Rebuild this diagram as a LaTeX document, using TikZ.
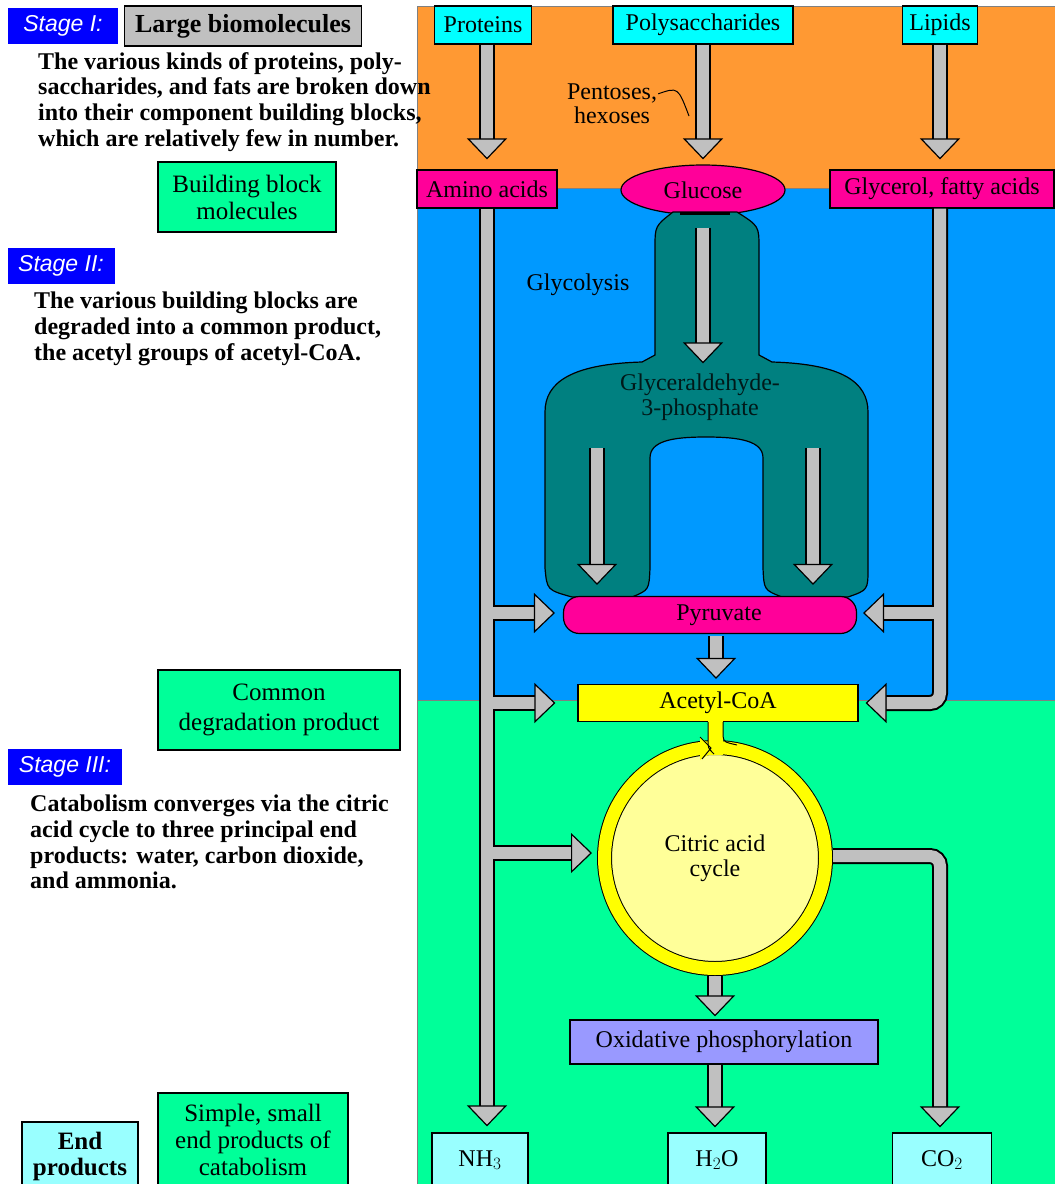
\documentclass[tikz,border=0pt]{standalone}
\usepackage{fontspec}
\setmainfont{Liberation Serif}
\setsansfont{Liberation Sans}
\usetikzlibrary{arrows.meta,shapes.geometric,calc}

\definecolor{orangebg}{HTML}{FF9933}
\definecolor{bluebg}{HTML}{0099FF}
\definecolor{greenbg}{HTML}{00FF99}
\definecolor{topcyan}{HTML}{00FFFF}
\definecolor{endcyan}{HTML}{99FFFF}
\definecolor{magbox}{HTML}{FF0099}
\definecolor{glyteal}{HTML}{008080}
\definecolor{pipegray}{HTML}{C0C0C0}
\definecolor{stageblue}{HTML}{0000FF}
\definecolor{acyellow}{HTML}{FFFF00}
\definecolor{cycyellow}{HTML}{FFFF99}
\definecolor{oxblue}{HTML}{9999FF}

\tikzset{
  box/.style={draw=black, line width=1.2pt, inner sep=0pt, align=center,
    font=\fontsize{24}{26}\selectfont},
  stage/.style={fill=stageblue, inner sep=0pt, text=white,
    font=\sffamily\itshape\fontsize{23}{24}\selectfont},
  para/.style={anchor=north west, inner sep=0pt, align=left,
    font=\bfseries\fontsize{24}{25.7}\selectfont},
  pipe/.style={draw=pipegray, line width=12pt,
    -{Triangle[width=40pt,length=21pt,line width=1.2pt,fill=pipegray,color=black]},
    preaction={draw=black, line width=16pt, -, shorten >=20pt}},
}

\begin{document}
\begin{tikzpicture}[x=1pt,y=-1pt]
\useasboundingbox (0,0) rectangle (1055,1184);
\fill[white] (0,0) rectangle (1055,1184);

\fill[orangebg] (417,6) rectangle (1055,188);
\fill[bluebg] (417,188) rectangle (1055,700);
\fill[greenbg] (417,700) rectangle (1055,1184);
\draw[gray, line width=1pt] (417,1184) -- (417,6) -- (1055,6);
\draw[gray, line width=1pt] (417,188) -- (1055,188);
\draw[gray, line width=1pt] (417,700) -- (1055,700);

\node[stage, minimum width=110, minimum height=36] (stageI) at (63,26) {Stage I:};
\node[box, fill=pipegray, minimum width=237, minimum height=40, font=\bfseries\fontsize{26}{28}\selectfont] (large) at (243,26) {Large biomolecules};
\node[para] (paraI) at (38,52) {The various kinds of proteins, poly-\\saccharides, and fats are broken down\\into their component building blocks,\\which are relatively few in number.};
\node[box, fill=greenbg, minimum width=178, minimum height=70, font=\fontsize{25}{27}\selectfont] (bblock) at (247,197) {Building block\\molecules};

\node[stage, minimum width=107, minimum height=36] (stageII) at (61,266) {Stage II:};
\node[para] (paraII) at (34,292) {The various building blocks are\\degraded into a common product,\\the acetyl groups of acetyl-CoA.};
\node[box, fill=greenbg, minimum width=242, minimum height=80, font=\fontsize{25}{30}\selectfont] (common) at (279,710) {Common\\degradation product};

\node[stage, minimum width=114, minimum height=36] (stageIII) at (65,767) {Stage III:};
\node[para] (paraIII) at (30,795) {Catabolism converges via the citric\\acid cycle to three principal end\\products: water, carbon dioxide,\\and ammonia.};

\node[box, fill=endcyan, minimum width=116, minimum height=68, font=\bfseries\fontsize{25}{26}\selectfont] (endprod) at (80,1156) {End\\products};
\node[box, fill=greenbg, minimum width=190, minimum height=94, font=\fontsize{25}{27}\selectfont] (simple) at (253,1140) {Simple, small\\end products of\\catabolism};

\node[box, fill=topcyan, minimum width=97, minimum height=38] (proteins) at (483,25) {Proteins};
\node[box, fill=topcyan, minimum width=180, minimum height=38] (polysac) at (703,25) {Polysaccharides};
\node[box, fill=topcyan, minimum width=75, minimum height=38] (lipids) at (940,25) {Lipids};

\node[box, fill=magbox, minimum width=140, minimum height=38] (amino) at (487,189) {Amino acids};
\node[box, ellipse, fill=magbox, minimum width=164, minimum height=50] (glucose) at (703,190) {Glucose};
\node[box, fill=magbox, minimum width=224, minimum height=38] (glycerol) at (942,189) {Glycerol, fatty acids};

\node[align=center, font=\fontsize{24}{24}\selectfont, inner sep=0pt] (pent) at (612,104) {Pentoses,\\hexoses};
\coordinate (pentend) at (689,116);
\draw[line width=1pt] ($(pent.north east)+(1,10)$) .. controls (678,87) .. (pentend);

\draw[pipe] (proteins.south -| amino.south) -- ($(amino.north)+(0,-10)$);
\draw[pipe] (polysac.south) -- ($(polysac.south |- glucose.north)+(0,-5)$);
\draw[pipe] (lipids.south) -- ($(lipids.south |- glycerol.north)+(0,-10)$);

\filldraw[fill=glyteal, draw=black, line width=1.2pt]
  (673,212) -- (737,212) .. controls (759,226) .. (759,248) -- (759,355)
  -- (772,362) .. controls (842,364) and (868,382) .. (868,412) -- (868,568)
  .. controls (868,590) .. (848,597) -- (782,597) .. controls (764,590) .. (763,568)
  -- (763,458) .. controls (763,441) and (740,437) .. (706,437)
  .. controls (672,437) and (650,441) .. (650,458) -- (650,568)
  .. controls (649,590) .. (632,597) -- (572,597) .. controls (547,590) .. (545,568)
  -- (545,412) .. controls (545,382) and (572,364) .. (642,362)
  -- (655,355) -- (655,248) .. controls (655,226) .. (673,212) -- cycle;
\draw[line width=3pt] (680,213) -- (730,213);

\node[font=\fontsize{24}{26}\selectfont, inner sep=0pt] (glycolysis) at (578,285) {Glycolysis};
\node[align=center, font=\fontsize{24}{25}\selectfont, inner sep=0pt, text=black!80!glyteal] (g3p) at (700,397) {Glyceraldehyde-\\3-phosphate};

\node[box, rounded corners=16pt, fill=magbox, minimum width=293, minimum height=37] (pyruvate) at (710,615) {\hspace*{18pt}Pyruvate};
\node[box, fill=acyellow, minimum width=280, minimum height=37] (acetyl) at (718,703) {Acetyl-CoA};

\coordinate (legl) at (597,448);
\coordinate (legr) at (813,448);
\draw[pipe] ($(glucose.south)+(0,12)$) -- ($(glucose.south |- g3p.north)+(0,-10)$);
\draw[pipe] (legl) -- ($(legl |- pyruvate.north)+(0,-11)$);
\draw[pipe] (legr) -- ($(legr |- pyruvate.north)+(0,-11)$);
\draw[pipe] ($(pyruvate.south)+(6,2)$) -- ($(acetyl.north)+(-2,-5)$);

\node[circle, draw=black, line width=1pt, double=acyellow, double distance=13pt, fill=cycyellow, minimum size=221, outer sep=7.5pt, inner sep=0pt, align=center, font=\fontsize{24}{25}\selectfont] (citric) at (715,858) {Citric acid\\cycle};
\fill[acyellow] (708,721) rectangle (723,755);
\fill[acyellow] (700,737) -- (716,750) -- (700,760) -- cycle;
\draw[line width=1pt] (708,722) -- (708,740) .. controls (708,748) .. (714,754);
\draw[line width=1pt] (723,722) -- (723,736) .. controls (724,742) .. (737,745);
\draw[line width=1pt] (700,737) -- (711,748) -- (702,759);

\node[box, fill=oxblue, minimum width=308, minimum height=44] (oxphos) at (724,1042) {Oxidative phosphorylation};

\node[box, fill=endcyan, minimum width=96, minimum height=54] (nh3) at (480,1160) {NH$_3$};
\node[box, fill=endcyan, minimum width=98, minimum height=54] (h2o) at (717,1160) {H$_2$O};
\node[box, fill=endcyan, minimum width=99, minimum height=54] (co2) at (942,1160) {CO$_2$};

\coordinate (jl1) at (493,613);
\coordinate (jl2) at (493,703);
\coordinate (jl3) at (493,853);
\coordinate (jr1) at (934,613);
\draw[pipe] (amino.south) -- ($(amino.south |- nh3.north)+(0,-6)$);
\draw[pipe] (jl1) -- ($(jl1 -| pyruvate.west)+(-8,0)$);
\draw[pipe] (jl2) -- ($(acetyl.west)+(-22,0)$);
\draw[pipe] (jl3) -- ($(jl3 -| citric.west)+(-5,0)$);
\draw[pipe, rounded corners=10pt] ($(glycerol.south)+(-2,0)$) |- ($(acetyl.east)+(7,0)$);
\draw[pipe] (jr1) -- ($(jr1 -| pyruvate.east)+(6,0)$);

\draw[pipe] (citric.south) -- ($(oxphos.north)+(-9,-3)$);
\draw[pipe] ($(oxphos.south)+(-9,0)$) -- ($(h2o.north)+(-2,-5)$);
\draw[pipe, rounded corners=10pt] ($(citric.east)+(0,-2)$) -| ($(co2.north)+(-2,-5)$);
\end{tikzpicture}
\end{document}
